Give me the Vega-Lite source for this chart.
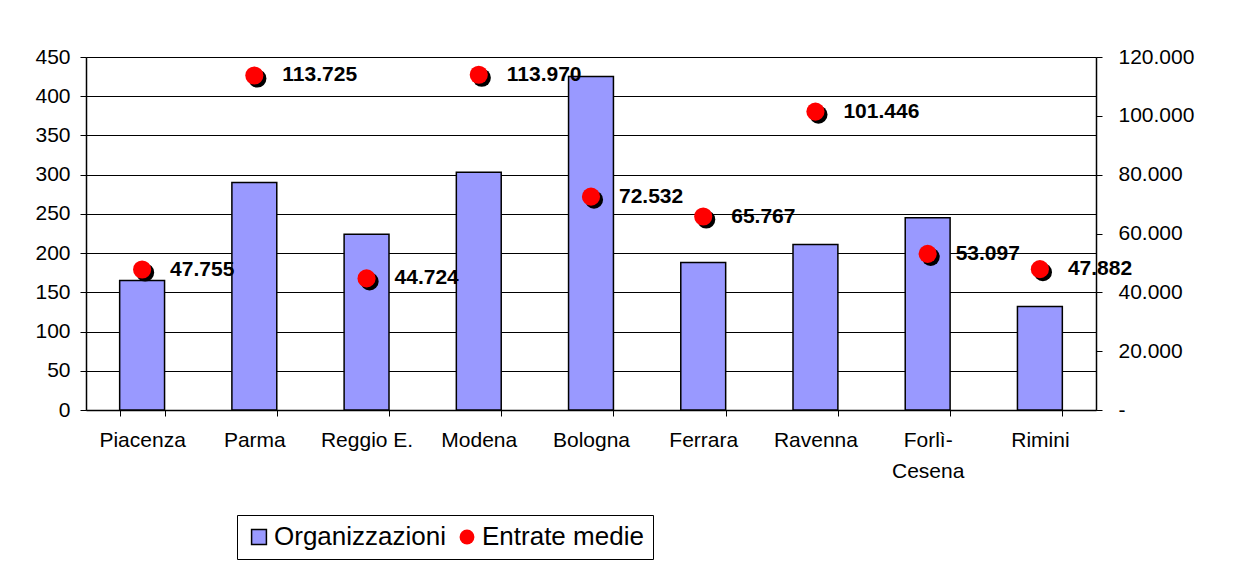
{
  "$schema": "https://vega.github.io/schema/vega-lite/v6.json",
  "width": 1010,
  "height": 353,
  "autosize": {"type": "none"},
  "padding": {"left": 86, "top": 57, "right": 155, "bottom": 157},
  "background": "white",
  "config": {
    "locale": {"number": {"decimal": ",", "thousands": ".", "grouping": [3], "currency": ["€", ""]}},
    "view": {"stroke": "#808080", "strokeWidth": 1},
    "font": "Liberation Sans",
    "axis": {
      "labelFont": "Liberation Sans",
      "labelFontSize": 21,
      "labelColor": "black",
      "domainColor": "black",
      "domainWidth": 1.5,
      "tickColor": "black",
      "tickWidth": 1,
      "tickSize": 6,
      "title": null
    },
    "legend": {
      "orient": "none", "legendX": 151, "legendY": 458,
      "direction": "horizontal", "title": null,
      "strokeColor": "black", "fillColor": "white", "padding": 9,
      "labelFontSize": 26, "labelFont": "Liberation Sans", "labelColor": "black", "labelLimit": 500,
      "columnPadding": 8, "symbolSize": 220, "labelOffset": 2, "symbolStrokeWidth": 1.5
    }
  },
  "data": {
    "values": [
      {"regione": "Piacenza", "org": 165, "entrate": 47755},
      {"regione": "Parma", "org": 290, "entrate": 113725},
      {"regione": "Reggio E.", "org": 224, "entrate": 44724},
      {"regione": "Modena", "org": 303, "entrate": 113970},
      {"regione": "Bologna", "org": 425, "entrate": 72532},
      {"regione": "Ferrara", "org": 188, "entrate": 65767},
      {"regione": "Ravenna", "org": 211, "entrate": 101446},
      {"regione": "Forlì-Cesena", "org": 245, "entrate": 53097},
      {"regione": "Rimini", "org": 132, "entrate": 47882}
    ]
  },
  "encoding": {
    "x": {
      "field": "regione", "type": "nominal", "sort": null,
      "scale": {"paddingInner": 0.6, "paddingOuter": 0.3},
      "axis": {
        "labelAngle": 0, "tickBand": "extent", "labelPadding": 13, "grid": false,
        "labelExpr": "datum.label == 'Forlì-Cesena' ? ['Forlì-', 'Cesena'] : datum.label",
        "labelLineHeight": 31
      }
    }
  },
  "layer": [
    {
      "mark": {"type": "bar", "fill": "#9999FF", "stroke": "black", "strokeWidth": 1.5},
      "encoding": {
        "y": {
          "field": "org", "type": "quantitative",
          "scale": {"domain": [0, 450], "nice": false},
          "axis": {
            "values": [0, 50, 100, 150, 200, 250, 300, 350, 400, 450],
            "grid": true, "gridColor": "black", "gridWidth": 1, "gridOpacity": 1,
            "labelPadding": 10
          }
        }
      }
    },
    {
      "encoding": {
        "y": {
          "field": "entrate", "type": "quantitative",
          "scale": {"domain": [0, 120000], "nice": false},
          "axis": {
            "orient": "right",
            "values": [0, 20000, 40000, 60000, 80000, 100000, 120000],
            "labelExpr": "datum.value == 0 ? '-' : replace(format(datum.value, ',.0f'), ',', '.')",
            "grid": false, "labelPadding": 16
          }
        }
      },
      "layer": [
        {
          "mark": {"type": "point", "filled": true, "fill": "black", "opacity": 1, "size": 330, "xOffset": 3, "yOffset": 3}
        },
        {
          "mark": {"type": "point", "filled": true, "opacity": 1, "size": 330},
          "encoding": {
            "color": {
              "datum": "Entrate medie",
              "scale": {"domain": ["Organizzazioni", "Entrate medie"], "range": ["#9999FF", "#FF0000"]}
            },
            "shape": {
              "datum": "Entrate medie",
              "scale": {"domain": ["Organizzazioni", "Entrate medie"], "range": ["square", "circle"]}
            },
            "stroke": {
              "datum": "Entrate medie",
              "scale": {"domain": ["Organizzazioni", "Entrate medie"], "range": ["black", "transparent"]}
            }
          }
        },
        {
          "mark": {"type": "text", "align": "left", "baseline": "middle", "dx": 28, "fontWeight": "bold", "fontSize": 21, "font": "Liberation Sans", "color": "black"},
          "encoding": {"text": {"field": "entrate", "type": "quantitative", "format": ","}}
        }
      ]
    }
  ],
  "resolve": {"scale": {"y": "independent"}}
}
